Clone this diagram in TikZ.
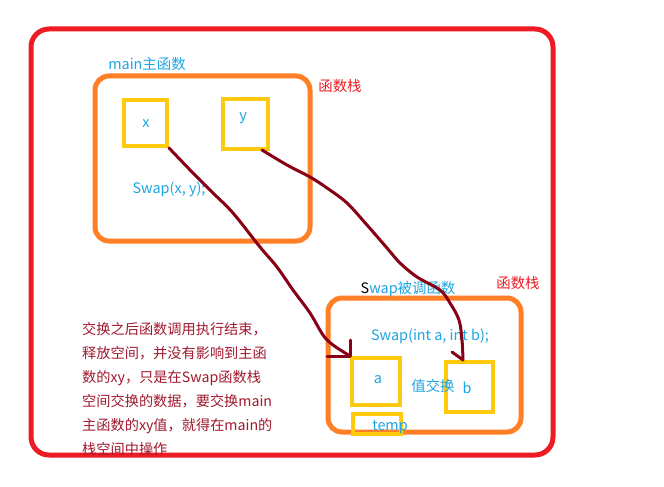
\documentclass[tikz,border=0pt]{standalone}
\usepackage{fontspec}
\setmainfont{Noto Sans CJK SC}
\definecolor{cred}{HTML}{ED1C24}
\definecolor{corange}{HTML}{FF7F27}
\definecolor{cyellow}{HTML}{FFC90E}
\definecolor{ccyan}{HTML}{1EA5E3}
\definecolor{cdark}{HTML}{880015}
\definecolor{ctext}{HTML}{A0192E}
\begin{document}
\begin{tikzpicture}[x=1pt,y=-1pt,
  every node/.style={font=\fontsize{14.4}{17}\selectfont, inner sep=0pt},
  outerframe/.style={draw=cred, line width=5pt, rounded corners=18pt},
  stackframe/.style={draw=corange, line width=5pt, rounded corners=14pt},
  cell/.style={draw=cyellow, line width=4pt, minimum width=#1},
  cyanlabel/.style={text=ccyan},
  redlabel/.style={text=cred},
  para/.style={text=ctext, anchor=base west, font=\fontsize{14.2}{17}\selectfont},
  link/.style={draw=cdark, line width=3pt, line join=round, line cap=round}]
\useasboundingbox (0,0) rectangle (664,487);
\fill[white] (0,0) rectangle (664,487);

% outer frame
\draw[outerframe] (31,29) rectangle (553,455);

% main stack frame
\draw[stackframe] (95,76) rectangle (310,241);
\node[cyanlabel] (mainlbl) at (147,64) {main主函数};
\node[redlabel] (stk1) at (340,86) {函数栈};

\node[cell=43pt, minimum height=46pt] (x) at (145.5,123) {};
\node[cell=45pt, minimum height=50pt] (y) at (245.5,124) {};
\node[cyanlabel] (xl) at (146,124) {x};
\node[cyanlabel] (yl) at (243,118) {y};
\node[cyanlabel] (call) at (169,189) {Swap(x, y);};

% swap stack frame
\draw[stackframe] (328,298) rectangle (521,432);
\node (swaplbl) at (408,289) {S\textcolor{ccyan}{wap被调函数}};
\node[redlabel] (stk2) at (518,283) {函数栈};
\node[cyanlabel] (decl) at (430,336) {Swap(int a, int b);};

\node[cell=48pt, minimum height=47pt] (a) at (376,381.5) {};
\node[cell=47pt, minimum height=50pt] (b) at (469.5,387) {};
\node[cell=48pt, minimum height=20pt] (t) at (377,424) {};
\node[cyanlabel] (al) at (378,380) {a};
\node[cyanlabel] (bl) at (467,388) {b};
\node[cyanlabel] (swp) at (433,386) {值交换};
\node[cyanlabel] (tl) at (390,427) {temp};

% explanation
\node[para] (p1) at (82,334) {交换之后函数调用执行结束，};
\node[para] (p2) at (82,358) {释放空间，并没有影响到主函};
\node[para] (p3) at (82,382) {数的xy，只是在Swap函数栈};
\node[para] (p4) at (82,406) {空间交换的数据，要交换main};
\node[para] (p5) at (82,430) {主函数的xy值，就得在main的};
\node[para] (p6) at (82,454) {栈空间中操作};

% connectors
\coordinate (tipa) at (a.north west);
\coordinate (tipb) at (463,360);
\draw[link] plot[smooth, tension=0.55] coordinates {(x.south east) (193,173) (213,193) (233,213) (260,247) (277,267) (293,290) (310,313) (323,335) (333,345) (tipa)};
\draw[link] (tipa) -- ++(-23,0);
\draw[link] (tipa) -- ++(0,-16);
\draw[link] plot[smooth, tension=0.55] coordinates {(262,150) (287,165) (310,177) (327,188) (347,203) (367,225) (387,248) (400,263) (417,277) (440,290) (450,303) (459,320) (462,340) (tipb)};
\draw[link] (tipb) -- ++(-11,-8);
\end{tikzpicture}
\end{document}
